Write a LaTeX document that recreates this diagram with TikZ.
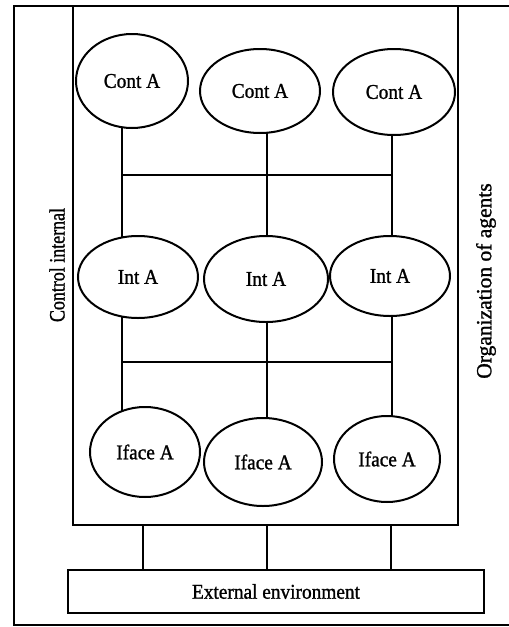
\documentclass[tikz,border=0pt]{standalone}
\usepackage{fontspec}
\setmainfont{Liberation Serif}[FakeBold=1.2]
\usetikzlibrary{shapes.geometric,backgrounds}
\newcommand\condtext[2]{\scalebox{#1}[1]{#2}}
\tikzset{
  agent/.style={ellipse, draw, fill=white, line width=2pt, inner sep=0pt, font=\fontsize{21}{23}\selectfont},
  boxnode/.style={rectangle, draw, line width=2pt, inner sep=0pt},
  wire/.style={line width=2pt},
}
\begin{document}
\begin{tikzpicture}[x=1pt,y=-1pt]
\useasboundingbox (0,0) rectangle (509,627);
% outer frame (open at right edge)
\draw[wire] (512,6) -- (14,6) -- (14,625) -- (512,625);
% inner box
\node[boxnode, minimum width=385pt, minimum height=519pt] (inner) at (265.5,265.5) {};
% external environment
\node[boxnode, minimum width=416pt, minimum height=43pt, font=\fontsize{21}{23}\selectfont] (env) at (276,591.5) {\condtext{0.92}{External environment}};
% side labels
\node[rotate=90, font=\fontsize{22}{24}\selectfont] (lctl) at (57,265) {\condtext{0.815}{Control internal}};
\node[rotate=90, font=\fontsize{21.5}{23}\selectfont] (lorg) at (486,281) {Organization of agents};
% agents
\node[agent, minimum width=112pt, minimum height=94pt] (c1) at (132,81) {\condtext{0.92}{Cont A}};
\node[agent, minimum width=120pt, minimum height=84pt] (c2) at (260,91) {\condtext{0.92}{Cont A}};
\node[agent, minimum width=122pt, minimum height=86pt] (c3) at (394,92) {\condtext{0.92}{Cont A}};
\node[agent, minimum width=120pt, minimum height=82pt] (i1) at (138,277) {\condtext{0.92}{Int A}};
\node[agent, minimum width=124pt, minimum height=86pt] (i2) at (266,279) {\condtext{0.92}{Int A}};
\node[agent, minimum width=120pt, minimum height=80pt] (i3) at (390,276) {\condtext{0.92}{Int A}};
\node[agent, minimum width=110pt, minimum height=90pt] (f1) at (145,452) {\condtext{0.92}{Iface A}};
\node[agent, minimum width=118pt, minimum height=88pt] (f2) at (263,462) {\condtext{0.92}{Iface A}};
\node[agent, minimum width=106pt, minimum height=86pt] (f3) at (387,459) {\condtext{0.92}{Iface A}};
% bus coordinates
\coordinate (ba1) at (122,175);
\coordinate (ba2) at (267,175);
\coordinate (ba3) at (392,175);
\coordinate (bb1) at (122,362);
\coordinate (bb2) at (267,362);
\coordinate (bb3) at (392,362);
\coordinate (e1) at (143,525);
\coordinate (e2) at (267,525);
\coordinate (e3) at (391,525);
\begin{scope}[on background layer]
\draw[wire] (ba1) -- (ba3);
\draw[wire] (bb1) -- (bb3);
\draw[wire] (ba1 |- c1) -- (bb1 |- f1);
\draw[wire] (ba2 |- c2) -- (bb2 |- f2);
\draw[wire] (ba3 |- c3) -- (bb3 |- f3);
\end{scope}
\draw[wire] (e1) -- (e1 |- env.north);
\draw[wire] (e2) -- (e2 |- env.north);
\draw[wire] (e3) -- (e3 |- env.north);
\end{tikzpicture}
\end{document}
